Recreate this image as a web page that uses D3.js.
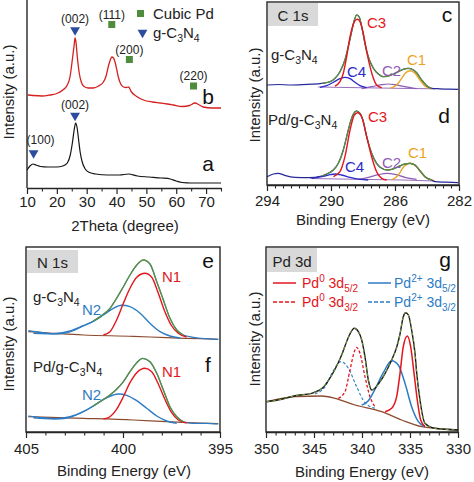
<!DOCTYPE html>
<html><head><meta charset="utf-8">
<script src="https://cdn.jsdelivr.net/npm/d3@7"></script>
<style>body{margin:0;background:#fff} svg text{font-family:"Liberation Sans",Arial,Helvetica,sans-serif}</style>
</head><body><script>
// ---------------- DATA ----------------
// (a/b) XRD: [2theta (deg), intensity a.u.]
const xrdTicks = [10,20,30,40,50,60,70];
const xrdMinorTicks = [15,25,35,45,55,65,75];
const xrdA = [[10,18],[11,22],[12,24],[13,23],[14.5,21.5],[17,21],[20,21],[22,22],[23.5,25],[24.5,33],[25.2,45],[25.8,58],[26.3,65],[26.8,60],[27.3,48],[27.8,36],[28.5,26],[29.5,19],[31,15.5],[33,14],[37,13],[41,13],[44,14],[47,12],[51,11],[55,10],[58,9],[60,7],[62,5.5],[65,5],[70,5],[75,5]];
const xrdB = [[10.3,93],[12,92.5],[15,92],[17.7,93],[20,94.5],[22,98],[23.5,103],[24.4,111],[25.3,131],[25.8,143],[26.1,150],[26.4,146],[26.8,133],[27.5,115],[28.2,106],[28.9,102],[30.5,100],[32.2,100],[34,102],[35.6,106],[36.5,112],[37.2,121],[37.9,128],[38.4,131],[39.0,130],[39.5,126],[40.1,118],[40.6,111],[41.4,104],[42.3,101],[43.3,100.5],[44.0,101],[45.0,96],[46.5,92],[49,88],[52,86],[54.6,85],[57,84],[59,83],[62,81.5],[64.5,82.5],[66.3,85],[67.5,83.5],[69,81],[72,80],[75,80]];
const xrdPdPeaks = [[38.4,163.5,"(111)"],[44.3,128.5,"(200)"],[65.8,102,"(220)"]];
const xrdCNPeaks = [[26.1,158,"(002)"],[26.1,72.5,"(002)"],[12.2,35,"(100)"]];

// (c/d) C 1s: [binding energy (eV), intensity a.u.]
const cTicks = [294,290,286,282];
const cRawUp = [[294.0,100],[293.3,100.5],[292.5,100],[291.8,100.3],[291.2,100.8],[290.58,101.7],[290.06,103.3],[289.75,106.7],[289.44,113.3],[289.13,125],[288.92,138.3],[288.71,153.3],[288.54,165],[288.40,170],[288.25,168.3],[288.08,158.3],[287.88,141.7],[287.67,128.3],[287.35,116.7],[287.04,111],[286.73,108.3],[286.42,109],[286.10,111],[285.79,113.3],[285.48,115.7],[285.17,116.7],[284.96,116],[284.65,112.3],[284.33,105],[284.02,99.3],[283.71,96.7],[283.2,96.2],[282.6,95.8],[282.05,95.7]];
const cEnvUp = [[290.58,101.7],[290.06,103.3],[289.75,106.7],[289.44,113.3],[289.13,125],[288.92,138.3],[288.71,153.3],[288.54,165],[288.40,170],[288.25,168.3],[288.08,158.3],[287.88,141.7],[287.67,128.3],[287.35,116.7],[287.04,111],[286.73,108.3],[286.42,109],[286.10,111],[285.79,113.3],[285.48,115.7],[285.17,116.7],[284.96,116],[284.65,112.3],[284.33,105],[284.02,99.3],[283.71,96.7]];
const cBgUp = [[290.8,98],[289,97.5],[287,97],[285,96.5],[283.5,96.2]];
const cC3Up = [[289.75,99],[289.44,103.3],[289.23,111.7],[289.02,128.3],[288.81,148.3],[288.60,161],[288.46,165],[288.33,165.7],[288.19,163.3],[287.98,151.7],[287.77,133.3],[287.56,118.3],[287.35,106.7],[287.15,100],[286.83,97.3]];
const cC4Up = [[290.69,97.7],[290.27,99.3],[289.85,102.7],[289.44,106.3],[289.13,107.7],[288.81,106.3],[288.50,102.7],[288.19,99.3],[287.77,97.3]];
const cC2Up = [[288.08,96.3],[287.46,98.3],[286.83,100.3],[286.42,101],[286.0,100.3],[285.38,98.3],[284.65,96.3]];
const cC1Up = [[286.31,96.7],[285.90,100],[285.58,106.7],[285.33,112.3],[285.06,114.3],[284.75,111.7],[284.44,105],[284.13,99],[283.71,96.3]];
const cRawLo = [[294.0,8.3],[293.6,11],[293.3,11.7],[292.9,9.7],[292.25,7.7],[291.4,7.3],[290.58,9],[290.17,11.7],[289.85,15],[289.54,21.7],[289.23,35],[289.02,48.3],[288.81,61.7],[288.60,71],[288.40,74],[288.19,71.7],[287.98,63.3],[287.77,48.3],[287.46,31.7],[287.15,21.7],[286.83,16.7],[286.52,15],[286.21,15.7],[285.79,18.3],[285.38,21],[285.06,21.7],[284.75,20],[284.44,14.3],[284.13,8.3],[283.71,5],[283.5,3.3],[282.8,2.8],[282.05,2.3]];
const cEnvLo = [[290.58,9],[290.17,11.7],[289.85,15],[289.54,21.7],[289.23,35],[289.02,48.3],[288.81,61.7],[288.60,71],[288.40,74],[288.19,71.7],[287.98,63.3],[287.77,48.3],[287.46,31.7],[287.15,21.7],[286.83,16.7],[286.52,15],[286.21,15.7],[285.79,18.3],[285.38,21],[285.06,21.7],[284.75,20],[284.44,14.3],[284.13,8.3],[283.71,5]];
const cBgLo = [[291.3,6.5],[289.5,6],[287.5,5.5],[285.5,5],[283.5,4]];
const cC3Lo = [[289.85,8.3],[289.44,13.3],[289.13,28.3],[288.81,55],[288.54,70],[288.33,72.3],[288.08,68.3],[287.77,48.3],[287.46,28.3],[287.15,13.3],[286.83,6.7],[286.52,5]];
const cC4Lo = [[291.2,6.7],[290.58,8.3],[290.06,10.3],[289.75,11],[289.33,10],[288.81,7.7],[288.19,5.7],[287.67,5]];
const cC2Lo = [[288.29,5.7],[287.67,7.7],[287.04,10.3],[286.52,11.7],[286.0,10.7],[285.38,7.7],[284.65,5.7]];
const cC1Lo = [[286.21,5],[285.79,10],[285.48,17.7],[285.06,21.7],[284.65,18.3],[284.33,11.7],[283.92,6],[283.5,4.3]];

// (e/f) N 1s
const eTicks = [405,400,395];
const eRawUp = [[404.88,101.3],[404.11,99.3],[403.33,98],[402.73,100],[402.05,106],[401.53,111],[401.19,115.3],[400.67,123.7],[400.33,133.7],[399.98,145.3],[399.64,157],[399.29,167],[398.95,172],[398.61,168],[398.26,150.3],[397.92,132],[397.58,113.7],[397.23,102],[396.89,97],[396.38,94.7],[395.69,93.3],[395.09,92.7]];
const eEnvUp = [[401.53,111],[401.19,115.3],[400.67,123.7],[400.33,133.7],[399.98,145.3],[399.64,157],[399.29,167],[398.95,172],[398.61,168],[398.26,150.3],[397.92,132],[397.58,113.7],[397.23,102],[396.89,97]];
const eBgUp = [[404.88,100.3],[402.05,97],[399.47,95.7],[397.75,94.3],[396.03,93.3],[395.09,92.7]];
const eN1Up = [[401.01,97],[400.67,100.3],[400.33,112],[399.98,128.7],[399.64,143.7],[399.29,154.7],[398.87,158.7],[398.52,154.7],[398.18,138.7],[397.84,120.3],[397.49,106],[397.15,98.7],[396.72,95]];
const eN2Up = [[404.62,98.7],[403.59,98.3],[402.73,101],[402.05,106.3],[401.53,110.7],[401.01,117],[400.50,123.7],[400.07,126.7],[399.64,125.3],[399.12,118.7],[398.61,108.7],[398.09,100.3],[397.58,96],[397.06,94]];
const eRawLo = [[404.88,16],[404.11,14.3],[403.33,13],[402.73,14.7],[402.05,20.3],[401.53,26],[401.19,30.3],[400.67,37],[400.33,42.7],[399.98,50.3],[399.64,60.3],[399.29,69.3],[398.99,73.7],[398.61,70.3],[398.26,58.7],[397.92,42],[397.58,25.3],[397.23,15.3],[396.89,10.3],[396.38,8.7],[395.69,8.7],[395.09,8]];
const eEnvLo = [[401.53,26],[401.19,30.3],[400.67,37],[400.33,42.7],[399.98,50.3],[399.64,60.3],[399.29,69.3],[398.99,73.7],[398.61,70.3],[398.26,58.7],[397.92,42],[397.58,25.3],[397.23,15.3],[396.89,10.3]];
const eBgLo = [[404.88,15.3],[402.05,13.7],[399.47,12],[397.75,10.3],[396.03,9],[395.09,8.3]];
const eN1Lo = [[401.01,13],[400.67,15.3],[400.33,22.7],[399.98,35.3],[399.64,49.3],[399.29,59.3],[398.87,63.7],[398.52,60.3],[398.18,48],[397.84,32.7],[397.49,19.3],[397.15,12],[396.72,9]];
const eN2Lo = [[404.62,14.3],[403.59,13.3],[402.73,15.3],[402.05,20.3],[401.53,26],[401.01,32.7],[400.50,37],[400.24,38],[399.81,36.7],[399.29,31.3],[398.78,23.7],[398.26,16],[397.75,11],[397.23,8.7]];

// (g) Pd 3d
const gTicks = [350,345,340,335,330];
const gRaw = [[349.93,30.3],[348.37,32.7],[346.98,36.3],[345.24,38.7],[344.55,41.3],[344.03,44.7],[343.51,51.3],[342.81,62.7],[342.12,77],[341.77,86],[341.42,94.7],[340.80,103.7],[340.38,100.3],[340.03,92],[339.69,75.3],[339.34,52],[338.99,42],[338.65,43.7],[338.30,48],[337.78,55.3],[337.26,64.7],[336.91,72],[336.39,84.7],[336.04,98],[335.70,115.3],[335.45,119.3],[335.17,117],[334.83,102],[334.48,78.7],[334.30,58.7],[333.96,32],[333.44,8.7],[332.40,3.7],[329.97,2]];
const gBg = [[349.93,30.3],[346.98,35.3],[344.20,36],[342.81,33.7],[340.73,27],[337.95,20.3],[335.87,12],[333.78,5.3],[329.97,2]];
const gPd0_52 = [[337.60,20.3],[336.91,23.7],[336.39,35.3],[336.04,58.7],[335.70,85.3],[335.28,96],[334.93,85.3],[334.58,58.7],[334.24,32],[333.89,12],[333.44,5.3]];
const gPd0_32 = [[342.47,33.7],[341.77,40.3],[341.25,62],[340.80,80.3],[340.56,84.7],[340.21,78.7],[339.69,55.3],[339.17,35.3],[338.65,25.3]];
const gPd2_52 = [[340.03,27],[339.34,31.3],[338.65,42.7],[337.78,59.3],[336.91,71.3],[336.22,67],[335.52,48.7],[334.83,25.3],[334.13,10.3],[333.44,5.3]];
const gPd2_32 = [[344.90,38],[343.85,45.3],[342.99,61.3],[342.19,70.3],[341.42,63.7],[340.56,45.3],[339.69,29.3],[338.65,23.7]];

// ---------------- DRAWING ----------------
const COL = {red:"#e3161c", blue:"#2d7cc3", navy:"#25299a", c4:"#2a2ac8", purple:"#8d5db5",
  orange:"#eba324", green:"#5d8f3d", brown:"#8c4b30", xrdRed:"#d52020", tri:"#2c4d9c", sq:"#4f8c3c", axis:"#262626", txt:"#222"};
const svg = d3.select("body").append("svg").attr("width",474).attr("height",482);

function drawLine(g, sx, sy, data, color, width, dash) {
  const pts = data.slice().sort((a,b)=>sx(a[0])-sx(b[0]));
  const line = d3.line().x(d=>sx(d[0])).y(d=>sy(d[1])).curve(d3.curveMonotoneX);
  const p = g.append("path").attr("d", line(pts)).attr("fill","none").attr("stroke",color)
    .attr("stroke-width",width).attr("stroke-linejoin","round");
  if (dash) p.attr("stroke-dasharray", dash);
  return p;
}
function rich(g, x, y, parts, o={}) {
  const t = g.append("text").attr("x",x).attr("y",y).attr("font-size",o.size||15).attr("fill",o.color||COL.txt);
  if (o.anchor) t.attr("text-anchor",o.anchor);
  let shift = 0;
  parts.forEach(p => {
    const s = typeof p === "string" ? p : p[0];
    const kind = typeof p === "string" ? null : p[1];
    const target = kind==="sub" ? 4 : kind==="sup" ? -6 : 0;
    const ts = t.append("tspan").attr("dy", target-shift).text(s);
    if (kind) ts.attr("font-size", o.small||10.5);
    shift = target;
  });
  return t;
}
function bottomAxis(g, sx, y0, major, minor, pad) {
  const ax = g.append("g").attr("transform",`translate(0,${y0})`)
    .call(d3.axisBottom(sx).tickValues(major).tickSize(6).tickSizeOuter(0).tickPadding(pad).tickFormat(d3.format("d")));
  ax.selectAll("text").attr("font-size",15).attr("fill",COL.txt).style("font-family",'"Liberation Sans",Arial,sans-serif');
  ax.selectAll("line").attr("stroke",COL.axis).attr("stroke-width",1.2);
  ax.select(".domain").attr("stroke",COL.axis).attr("stroke-width",1.4);
  const mn = g.append("g").attr("transform",`translate(0,${y0})`)
    .call(d3.axisBottom(sx).tickValues(minor).tickSize(3.5).tickSizeOuter(0).tickFormat(""));
  mn.select(".domain").remove();
  mn.selectAll("line").attr("stroke",COL.axis).attr("stroke-width",1.1);
}
function yTitle(x, cy) {
  svg.append("text").attr("transform",`translate(${x},${cy}) rotate(-90)`).attr("text-anchor","middle")
    .attr("font-size",15).attr("fill",COL.txt).text("Intensity (a.u.)");
}
function xTitle(cx, y, s) {
  svg.append("text").attr("x",cx).attr("y",y).attr("text-anchor","middle").attr("font-size",15).attr("fill",COL.txt).text(s);
}
function tagBox(x, y, w, h, s) {
  svg.append("rect").attr("x",x).attr("y",y).attr("width",w).attr("height",h).attr("fill","#d9d9d9");
  svg.append("text").attr("x",x+w/2).attr("y",y+h-5.5).attr("text-anchor","middle").attr("font-size",15).attr("fill",COL.txt).text(s);
}
function frame(x0,x1,y0,y1){
  svg.append("rect").attr("x",x0).attr("y",y0).attr("width",x1-x0).attr("height",y1-y0)
    .attr("fill","none").attr("stroke",COL.axis).attr("stroke-width",1.4);
}
function letter(x,y,s){ svg.append("text").attr("x",x).attr("y",y).attr("text-anchor","middle").attr("font-size",21).attr("fill","#111").text(s); }
function lab(x,y,s,c){ svg.append("text").attr("x",x).attr("y",y).attr("font-size",15).attr("fill",c).text(s); }

// ---- Panel a/b (XRD) ----
{
  const g = svg.append("g");
  const sx = d3.scaleLinear().domain([10,75]).range([27,221]);
  const sy = d3.scaleLinear().domain([0,188]).range([188,0]);
  drawLine(g, sx, sy, xrdA, "#151515", 1.2);
  drawLine(g, sx, sy, xrdB, COL.xrdRed, 1.3);
  g.append("line").attr("x1",27).attr("x2",27).attr("y1",0).attr("y2",188).attr("stroke",COL.axis).attr("stroke-width",1.4);
  bottomAxis(g, sx, 188, xrdTicks, xrdMinorTicks, 2);
  const tri = d3.symbol().type(d3.symbolTriangle).size(42);
  xrdCNPeaks.forEach(([d,h,l],i) => {
    g.append("path").attr("d",tri()).attr("transform",`translate(${sx(d)},${sy(h)}) rotate(180)`).attr("fill",COL.tri);
    g.append("text").attr("x",sx(d)+(i===2?7:0)).attr("y",sy(h)-(i===2?9:7)).attr("text-anchor","middle")
      .attr("font-size",12).attr("fill",COL.txt).text(l);
  });
  xrdPdPeaks.forEach(([d,h,l]) => {
    g.append("rect").attr("x",sx(d)-3.5).attr("y",sy(h)-3.5).attr("width",7).attr("height",7).attr("fill",COL.sq);
    g.append("text").attr("x",sx(d)).attr("y",sy(h)-6).attr("text-anchor","middle").attr("font-size",12).attr("fill",COL.txt).text(l);
  });
  // legend
  g.append("rect").attr("x",137).attr("y",10).attr("width",7).attr("height",7).attr("fill",COL.sq);
  g.append("text").attr("x",153).attr("y",18.5).attr("font-size",15).attr("fill",COL.txt).text("Cubic Pd");
  g.append("path").attr("d",tri()).attr("transform","translate(142.5,32.5) rotate(180)").attr("fill",COL.tri);
  rich(g, 153, 38, ["g-C",["3","sub"],"N",["4","sub"]]);
  letter(208,171,"a"); letter(208,104,"b");
  yTitle(14, 92);
  xTitle(125, 231, "2Theta (degree)");
}

// ---- Panel c/d (C 1s) ----
{
  const g = svg.append("g");
  const sx = d3.scaleLinear().domain([294,282]).range([267,459]);
  const sy = d3.scaleLinear().domain([0,183]).range([185,2]);
  const draw = (bg,c4,c2,c1,c3,raw,env) => {
    drawLine(g,sx,sy,bg,COL.purple,0.9);
    drawLine(g,sx,sy,c2,COL.purple,1.2);
    drawLine(g,sx,sy,c4,COL.c4,1.3);
    drawLine(g,sx,sy,c1,COL.orange,1.4);
    drawLine(g,sx,sy,raw,COL.navy,1.2);
    drawLine(g,sx,sy,env,COL.green,1.3);
    drawLine(g,sx,sy,c3,COL.red,1.4);
  };
  draw(cBgUp,cC4Up,cC2Up,cC1Up,cC3Up,cRawUp,cEnvUp);
  draw(cBgLo,cC4Lo,cC2Lo,cC1Lo,cC3Lo,cRawLo,cEnvLo);
  frame(267,459,2,185);
  bottomAxis(g, sx, 185, cTicks, d3.range(282.5,294,0.5).filter(v=>v%4!==2), 4);
  tagBox(268,3,50,23,"C 1s");
  letter(447,22,"c"); letter(444,123,"d");
  rich(g, 271, 60, ["g-C",["3","sub"],"N",["4","sub"]]);
  rich(g, 268, 125, ["Pd/g-C",["3","sub"],"N",["4","sub"]]);
  lab(367,28,"C3",COL.red); lab(347,77,"C4",COL.c4); lab(382,76,"C2",COL.purple); lab(407,65,"C1",COL.orange);
  lab(368,122,"C3",COL.red); lab(345,172,"C4",COL.c4); lab(382,168,"C2",COL.purple); lab(408,158,"C1",COL.orange);
  yTitle(260, 95);
  xTitle(363, 225, "Binding Energy (eV)");
}

// ---- Panel e/f (N 1s) ----
{
  const g = svg.append("g");
  const sx = d3.scaleLinear().domain([405,395]).range([26,220]);
  const sy = d3.scaleLinear().domain([0,185]).range([432,247]);
  const draw = (bg,n2,n1,raw,env) => {
    drawLine(g,sx,sy,bg,COL.brown,1.2);
    drawLine(g,sx,sy,raw,COL.blue,1.2);
    drawLine(g,sx,sy,n2,COL.blue,1.4);
    drawLine(g,sx,sy,n1,COL.red,1.4);
    drawLine(g,sx,sy,env,COL.green,1.3);
  };
  draw(eBgUp,eN2Up,eN1Up,eRawUp,eEnvUp);
  draw(eBgLo,eN2Lo,eN1Lo,eRawLo,eEnvLo);
  frame(26,220,247,432);
  bottomAxis(g, sx, 432, eTicks, [404,403,402,401,399,398,397,396], 5);
  tagBox(27,250,51,23,"N 1s");
  letter(208,268,"e"); letter(208,372,"f");
  rich(g, 33, 302, ["g-C",["3","sub"],"N",["4","sub"]]);
  rich(g, 33, 372, ["Pd/g-C",["3","sub"],"N",["4","sub"]]);
  lab(162,282,"N1",COL.red); lab(82,315,"N2",COL.blue);
  lab(162,377,"N1",COL.red); lab(82,400,"N2",COL.blue);
  yTitle(14, 344);
  xTitle(124, 476, "Binding Energy (eV)");
}

// ---- Panel g (Pd 3d) ----
{
  const g = svg.append("g");
  const sx = d3.scaleLinear().domain([350,330]).range([266,458]);
  const sy = d3.scaleLinear().domain([0,185]).range([432,247]);
  drawLine(g,sx,sy,gBg,COL.brown,1.3);
  drawLine(g,sx,sy,gPd2_32,COL.blue,1.1,"3,2");
  drawLine(g,sx,sy,gPd0_32,COL.red,1.3,"3,2");
  drawLine(g,sx,sy,gPd2_52,COL.blue,1.5);
  drawLine(g,sx,sy,gPd0_52,COL.red,1.5);
  drawLine(g,sx,sy,gRaw,"#1a1a1a",1.4);
  drawLine(g,sx,sy,gRaw,"#7aa43a",1.0,"3,3");
  frame(266,458,247,432);
  bottomAxis(g, sx, 432, gTicks, d3.range(331,350,1).filter(v=>v%5!==0), 5);
  tagBox(267,248,50,24,"Pd 3d");
  letter(445,267,"g");
  // legend
  const L = [[273,283,COL.red,null,"0",302],[273,302,COL.red,"4,2","0",302],[368,283,COL.blue,null,"2+",394],[368,302,COL.blue,"4,2","2+",394]];
  const subs = ["5/2","3/2","5/2","3/2"];
  L.forEach(([x,y,c,dash,sup,tx],i)=>{
    const ln = g.append("line").attr("x1",x).attr("x2",x+23).attr("y1",y).attr("y2",y).attr("stroke",c).attr("stroke-width",1.5);
    if (dash) ln.attr("stroke-dasharray",dash);
    rich(g, tx, y+5, ["Pd",[sup,"sup"]," 3d",[subs[i],"sub"]], {color:c, size:14, small:10});
  });
  yTitle(260, 339);
  xTitle(362, 477, "Binding Energy (eV)");
}
</script></body></html>
